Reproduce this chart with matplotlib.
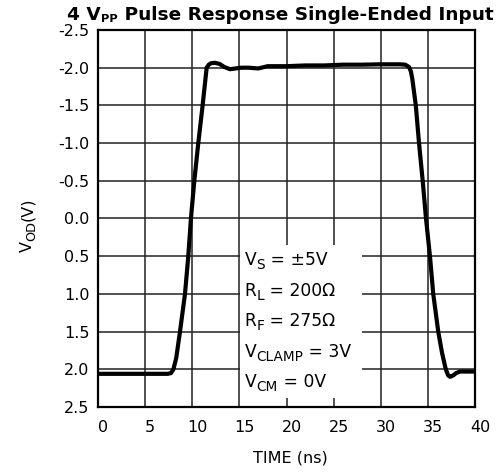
import matplotlib
matplotlib.use("Agg")
import matplotlib.pyplot as plt
import matplotlib.transforms as mtransforms
from matplotlib.patches import Rectangle

plt.rcParams['font.family'] = ['DejaVu Sans']
plt.rcParams['mathtext.fontset'] = 'dejavusans'

# Data
time_ns = [0, 7.4, 7.75, 8.0, 8.3, 8.7, 9.23, 9.58, 9.86, 10.22, 10.64, 11.1, 11.53,
           11.75, 12.0, 12.4, 12.9, 13.4, 14.0, 14.6, 15.2, 16.0, 17.0, 18.0, 20.0,
           22.0, 24.0, 26.0, 28.0, 30.0, 32.0, 32.6, 33.0, 33.2, 33.35, 33.72, 34.06,
           34.45, 34.8, 35.22, 35.57, 36.1, 36.5, 36.9, 37.15, 37.35, 37.7, 38.0, 38.4,
           40.0]
vod_v = [2.06, 2.06, 2.05, 2.0, 1.85, 1.5, 1.0, 0.5, 0.0, -0.5, -1.0, -1.5, -2.0,
         -2.04, -2.06, -2.065, -2.05, -2.01, -1.98, -1.99, -2.0, -2.0, -1.99, -2.02, -2.02,
         -2.03, -2.03, -2.04, -2.04, -2.045, -2.045, -2.04, -2.01, -1.95, -1.85, -1.5, -1.0,
         -0.5, 0.0, 0.5, 1.0, 1.5, 1.78, 2.0, 2.08, 2.10, 2.08, 2.05, 2.03,
         2.03]

x_ticks = [0, 5, 10, 15, 20, 25, 30, 35, 40]
y_ticks = [-2.5, -2.0, -1.5, -1.0, -0.5, 0.0, 0.5, 1.0, 1.5, 2.0, 2.5]
y_tick_labels = ['-2.5', '-2.0', '-1.5', '-1.0', '-0.5', '0.0', '0.5', '1.0', '1.5', '2.0', '2.5']
# each condition: (main, subscript, rest)
conditions = [('V', 'S', ' = ±5V'), ('R', 'L', ' = 200Ω'), ('R', 'F', ' = 275Ω'),
              ('V', 'CLAMP', ' = 3V'), ('V', 'CM', ' = 0V')]
title_parts = ('4 V', 'PP', ' Pulse Response Single-Ended Input')

W, H = 498, 474
fig = plt.figure(figsize=(W / 100, H / 100), dpi=100)
ax = fig.add_axes([98 / W, 1 - 407 / H, (475 - 98) / W, (407 - 30) / H])

ax.plot(time_ns, vod_v, color='black', linewidth=3.0, solid_joinstyle='round',
        solid_capstyle='round', zorder=4)

ax.set_xlim(0, 40)
ax.set_ylim(2.5, -2.5)
ax.set_xticks(x_ticks)
ax.set_xticklabels([str(t) for t in x_ticks])
ax.set_yticks(y_ticks)
ax.set_yticklabels(y_tick_labels)
ax.grid(True, color='#222222', linewidth=1.1, zorder=1)
ax.set_axisbelow(True)
ax.tick_params(axis='both', length=0, labelsize=11.5, colors='black')
ax.tick_params(axis='x', pad=9)
ax.tick_params(axis='y', pad=6)
for s in ax.spines.values():
    s.set_linewidth(1.6)
    s.set_color('black')

offset = mtransforms.ScaledTranslation(5 / 100, 0, fig.dpi_scale_trans)
for lbl in ax.get_xticklabels():
    lbl.set_transform(lbl.get_transform() + offset)

ax.add_patch(Rectangle((15.05, 0.35), 28.0 - 15.05, 2.38 - 0.35, facecolor='white',
                       edgecolor='none', zorder=2))

fig.canvas.draw()
renderer = fig.canvas.get_renderer()


def rich(x_px, base_px, parts, rotation=0):
    """parts: list of (text, size, drop_px, weight); coordinates in pixels from top-left."""
    cx, cy = x_px, base_px
    for text, size, drop, weight in parts:
        if rotation == 0:
            px, py = cx, cy + drop
        else:
            px, py = cx + drop, cy
        t = fig.text(px / W, 1 - py / H, text, fontsize=size, fontweight=weight,
                     ha='left', va='baseline', rotation=rotation,
                     rotation_mode='anchor', zorder=5)
        ext = t.get_window_extent(renderer)
        if rotation == 0:
            cx += ext.width
        else:
            cy -= ext.height


fs = 12.3
for i, (m, sub, rest) in enumerate(conditions):
    base = 265 + i * 30.6
    rich(244.5, base, [(m, fs, 0, 'normal'), (sub, fs * 0.8, 4, 'normal'),
                       (rest, fs, 0, 'normal')])

# title
tfs = 13.3
rich(67, 20.5, [(title_parts[0], tfs, 0, 'bold'), (title_parts[1], tfs * 0.62, 1.8, 'bold'),
                (title_parts[2], tfs, 0, 'bold')])

fig.text(290 / W, 1 - 458 / H, 'TIME (ns)', ha='center', va='center', fontsize=11.5)
rich(32, 252, [('V', 11.5, 0, 'normal'), ('OD', 11.5 * 0.8, 3.5, 'normal'),
               ('(V)', 11.5, 0, 'normal')], rotation=90)

fig.savefig('out.png', dpi=100)
